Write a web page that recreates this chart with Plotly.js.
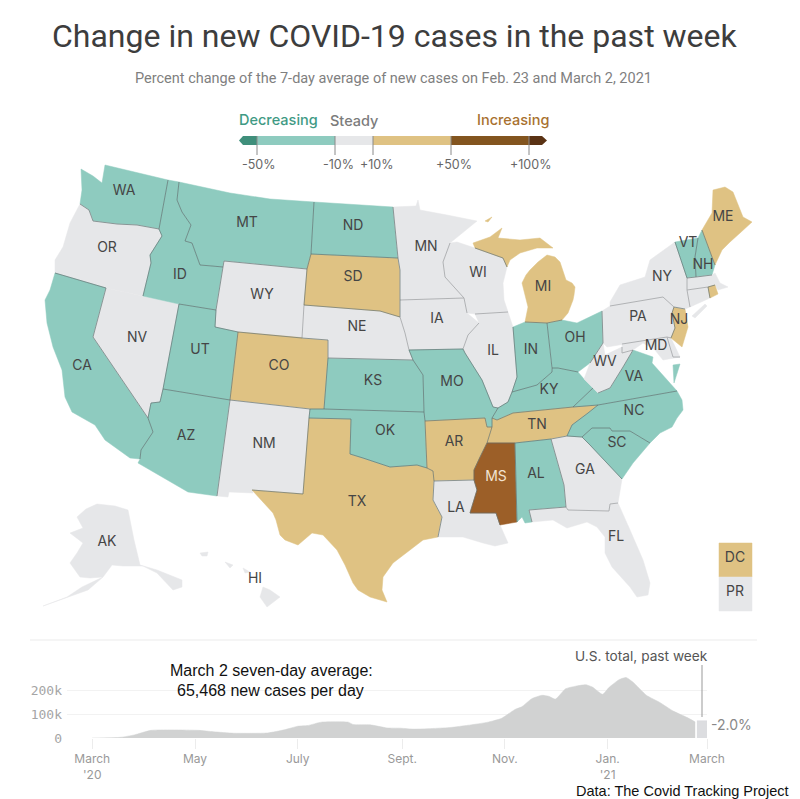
<!DOCTYPE html><html><head><meta charset="utf-8"><script src="https://cdn.plot.ly/plotly-3.0.1.min.js"></script></head><body style="margin:0;background:#fff"><div id="c" style="width:800px;height:799px"></div><script>
// State outlines (no basemap file is available offline)
const WA=[[81,169],[93,176],[102,183],[105,165],[168,180],[159,229],[137,225],[117,224],[93,221],[89,210],[80,204],[82,190]];
const OR=[[80,204],[89,210],[93,221],[117,224],[137,225],[159,229],[162,236],[150,255],[151,263],[143,296],[106,288],[55,273],[55,260],[63,247],[70,223]];
const CA=[[55,273],[106,288],[93,337],[148,418],[153,432],[141,450],[140,459],[130,458],[105,440],[95,425],[72,412],[65,397],[62,370],[53,347],[47,323],[45,300],[50,290]];
const NV=[[106,288],[179,304],[163,389],[160,402],[151,403],[148,418],[93,337]];
const ID=[[168,180],[179,182],[177,200],[182,212],[191,225],[185,241],[192,243],[200,265],[212,266],[223,267],[216,310],[179,304],[143,296],[151,263],[150,255],[162,236],[159,229]];
const MT=[[179,182],[230,193],[270,199],[314,202],[311,254],[307,269],[224,261],[223,267],[212,266],[200,265],[192,243],[185,241],[191,225],[182,212],[177,200]];
const WY=[[224,261],[307,269],[304,305],[302,338],[238,332],[215,327],[216,310],[223,267]];
const UT=[[179,304],[216,310],[215,327],[238,332],[230,400],[163,389]];
const CO=[[238,332],[302,338],[328,340],[328,358],[324,409],[310,409],[230,400]];
const AZ=[[163,389],[230,400],[217,496],[188,492],[138,463],[140,459],[141,450],[153,432],[148,418],[151,403],[160,402]];
const NM=[[230,400],[310,409],[309,418],[303,494],[252,490],[253,493],[229,492],[228,497],[217,496]];
const TX=[[309,418],[351,419],[350,454],[363,458],[390,467],[417,465],[427,468],[433,471],[434,481],[433,500],[442,517],[438,537],[423,540],[410,550],[393,563],[383,577],[382,590],[387,602],[370,597],[358,590],[353,583],[345,565],[337,550],[323,535],[312,533],[298,545],[285,540],[280,535],[276,520],[273,513],[252,490],[303,494]];
const OK=[[310,409],[324,409],[424,412],[425,421],[427,468],[417,465],[390,467],[363,458],[350,454],[351,419],[309,418]];
const KS=[[328,358],[413,360],[423,375],[424,412],[324,409]];
const NE=[[304,305],[380,311],[400,317],[405,333],[409,350],[413,360],[328,358],[328,340],[302,338]];
const SD=[[311,254],[398,258],[400,270],[400,300],[400,317],[380,311],[304,305],[307,269]];
const ND=[[314,202],[393,207],[398,258],[311,254]];
const MN=[[393,207],[416,206],[418,200],[420,210],[447,215],[477,221],[450,243],[443,262],[445,277],[464,298],[400,300],[400,270],[398,258]];
const IA=[[400,300],[464,298],[467,313],[479,323],[468,335],[463,349],[409,350],[405,333],[400,317]];
const WI=[[450,243],[457,242],[475,248],[503,258],[507,267],[503,283],[504,300],[508,312],[475,314],[467,313],[464,298],[445,277],[443,262]];
const IL=[[475,314],[508,312],[513,327],[517,377],[512,392],[508,402],[498,408],[493,407],[482,380],[465,353],[463,349],[468,335],[479,323]];
const IN=[[513,327],[525,322],[547,323],[552,368],[552,372],[537,385],[512,392],[517,377]];
const OH=[[547,323],[562,320],[577,323],[602,311],[603,343],[590,363],[578,372],[558,368],[552,368]];
const KY=[[552,368],[558,368],[578,372],[584,379],[593,388],[573,407],[513,413],[497,420],[492,418],[498,408],[508,402],[512,392],[537,385],[552,372]];
const TN=[[497,420],[513,413],[573,407],[598,405],[588,413],[572,425],[567,436],[551,439],[515,443],[487,443],[492,427],[492,418]];
const MO=[[409,350],[463,349],[465,353],[482,380],[493,407],[498,408],[492,418],[492,427],[487,427],[485,418],[425,421],[424,412],[423,375],[413,360]];
const AR=[[425,421],[485,418],[487,427],[492,427],[487,443],[480,457],[474,470],[474,480],[434,481],[433,471],[427,468]];
const LA=[[434,481],[474,480],[477,490],[470,513],[496,513],[500,525],[508,543],[495,546],[483,543],[463,537],[438,537],[442,517],[433,500]];
const MS=[[487,443],[515,443],[517,522],[500,525],[496,513],[470,513],[477,490],[474,480],[474,470],[480,457]];
const AL=[[515,443],[551,439],[564,485],[566,507],[529,510],[532,522],[525,523],[522,517],[517,522]];
const GA=[[551,439],[567,436],[582,437],[590,445],[622,479],[618,503],[610,504],[609,511],[568,510],[566,507],[564,485]];
const FL=[[529,510],[566,507],[568,510],[609,511],[610,504],[618,503],[630,530],[643,560],[650,583],[648,595],[637,597],[630,587],[612,567],[605,553],[605,537],[597,527],[587,522],[567,528],[553,520],[532,522]];
const SC=[[582,437],[592,428],[610,428],[612,431],[630,431],[650,443],[633,463],[622,479],[590,445]];
const NC=[[567,436],[572,425],[588,413],[598,405],[677,391],[682,400],[683,410],[677,418],[672,427],[660,433],[650,443],[630,431],[612,431],[610,428],[592,428],[582,437]];
const VA=[[573,407],[593,388],[598,393],[610,388],[623,367],[633,350],[653,357],[652,363],[677,391],[598,405]];
const VA2=[[673,365],[680,364],[674,383]];
const WV=[[603,343],[605,355],[622,347],[622,353],[633,350],[623,367],[610,388],[598,393],[584,379],[590,363]];
const PA=[[610,306],[663,297],[674,307],[672,313],[675,328],[671,338],[667,337],[622,344],[607,347],[603,343],[602,311]];
const MD=[[622,344],[667,337],[673,357],[680,357],[663,360],[655,350],[643,343],[633,350],[622,353],[622,347]];
const DE=[[667,337],[671,338],[680,357],[673,357]];
const NJ=[[674,307],[685,309],[688,327],[682,347],[671,338],[675,328],[672,313]];
const NY=[[610,306],[610,302],[620,285],[645,277],[650,260],[675,242],[687,278],[687,290],[690,307],[687,310],[674,307],[663,297]];
const NY2=[[692,316],[705,304],[707,306],[695,318]];
const VT=[[675,242],[698,238],[695,257],[696,277],[687,278]];
const NH=[[698,238],[702,230],[715,265],[712,275],[696,277],[695,257]];
const ME=[[702,230],[712,213],[713,190],[725,187],[733,192],[738,205],[743,217],[752,222],[746,228],[740,233],[730,242],[722,250],[715,265]];
const MA=[[687,278],[696,277],[712,275],[715,273],[720,283],[728,287],[718,290],[715,285],[708,287],[687,290]];
const CT=[[687,290],[708,287],[710,298],[690,307]];
const RI=[[708,287],[715,285],[718,294],[710,298]];
const MI=[[473,243],[490,237],[502,228],[498,238],[520,240],[540,238],[553,248],[537,248],[520,253],[510,260],[507,267],[503,258],[475,248]];
const MI2=[[547,255],[555,257],[560,262],[563,272],[566,280],[572,283],[575,287],[574,295],[573,300],[568,313],[562,320],[547,323],[525,322],[528,307],[522,283],[526,275],[530,270],[538,262]];
const MI3=[[485,221],[492,217],[488,222]];
const AK=[[77,517],[86,509],[97,504],[115,506],[128,510],[134,540],[140,565],[157,570],[182,580],[182,587],[173,590],[157,573],[143,566],[123,566],[112,565],[103,577],[90,578],[80,577],[70,563],[77,553],[83,543],[70,533],[83,528]];
const AK2=[[103,578],[88,590],[43,606],[67,597],[82,587]];
const HI=[[263,587],[270,590],[280,597],[267,607],[260,597]];
const HI2=[[243,568],[250,572],[245,573]];
const HI3=[[225,562],[233,565],[230,568]];
const HI4=[[200,553],[208,552],[207,556],[202,556]];
const DC=[[719,543],[752,543],[752,577],[719,577]];
const PR=[[719,578],[752,578],[752,611],[719,611]];

// Change class of each state
const decreasing=["WA","MT","ND","ID","UT","CA","AZ","KS","OK","MO","IN","OH","KY","VA","VA2","NC","SC","AL","VT","NH"];
const steady=["OR","NV","WY","NE","MN","IA","WI","IL","NM","LA","GA","FL","NY","NY2","PA","WV","MD","DE","MA","CT","AK","AK2","HI","HI2","HI3","HI4","PR"];
const increasing=["SD","CO","TX","AR","TN","MI","MI2","MI3","ME","NJ","RI","DC"];
const surging=["MS"];
const outlines={WA,OR,CA,NV,ID,MT,WY,UT,CO,AZ,NM,TX,OK,KS,NE,SD,ND,MN,IA,WI,IL,IN,OH,KY,TN,MO,AR,LA,MS,AL,GA,FL,SC,NC,VA,VA2,WV,PA,MD,DE,NJ,NY,NY2,VT,NH,ME,MA,CT,RI,MI,MI2,MI3,AK,AK2,HI,HI2,HI3,HI4,DC,PR};

// State labels
const labelNames=["WA","MT","ND","ID","OR","WY","SD","MN","WI","MI","ME","VT","NH","NY","NV","UT","CO","NE","IA","IL","IN","OH","PA","NJ","MD","WV","VA","KY","MO","KS","CA","AZ","NM","OK","AR","TN","NC","SC","GA","AL","MS","LA","TX","FL","AK","HI","DC","PR"];
const labelX=[124,247,353,180,107,262,353,426,478,543,723,688,703,662,137,200,279,357,437,493,531,575,638,679,656,605,634,549,452,373,82,186,264,385,454,537,634,617,585,536,496,456,357,616,107,255,735,735];
const labelY=[191,223,226,275,248,295,277,247,273,287,217,243,265,277,338,350,366,327,319,351,350,338,317,320,346,362,377,390,382,381,366,436,444,431,442,425,411,443,470,474,477,508,502,537,542,579,558,592];

// U.S. seven-day average of new cases
const caseDates=["2020-03-01","2020-03-18","2020-03-26","2020-04-05","2020-05-03","2020-05-12","2020-05-24","2020-06-13","2020-06-23","2020-07-01","2020-07-07","2020-07-15","2020-07-31","2020-08-03","2020-08-13","2020-08-23","2020-08-31","2020-09-08","2020-09-20","2020-09-30","2020-10-10","2020-10-22","2020-10-30","2020-11-07","2020-11-11","2020-11-17","2020-11-23","2020-11-27","2020-12-01","2020-12-07","2020-12-13","2020-12-19","2020-12-23","2020-12-29","2021-01-02","2021-01-08","2021-01-12","2021-01-16","2021-01-24","2021-02-01","2021-02-09","2021-02-17","2021-02-22"];
const caseValues=[0,3000,13000,32000,32000,26000,20000,21000,34000,49000,52000,66000,66000,56000,55000,42000,41000,37000,40000,44000,53000,66000,82000,119000,130000,164000,178000,174000,162000,205000,216000,222000,212000,182000,212000,244000,252000,233000,178000,148000,112000,86000,67000];
const weekDates=["2021-02-23","2021-03-01"];
const weekValues=[72000,72000];
const tickDates=["2020-03-01","2020-05-01","2020-07-01","2020-09-01","2020-11-01","2021-01-01","2021-03-01"];
const tickLabels=["March<br>'20","May","July","Sept.","Nov.","Jan.<br>'21","March"];

// Legend
const legendStops=[257,335,373,451,529];
const legendLabels=["-50%","-10%","+10%","+50%","+100%"];

const TEAL='#8ecbbf',GRAY='#e6e7e9',TAN='#dfc283',BROWN='#9c5f28';
const colorOf={};
decreasing.forEach(s=>colorOf[s]=TEAL);steady.forEach(s=>colorOf[s]=GRAY);increasing.forEach(s=>colorOf[s]=TAN);surging.forEach(s=>colorOf[s]=BROWN);

// Snap nearly-equal vertices, then find edges used by two states: those are the inner borders
const canon=[];
function snap(p){for(const q of canon){if(Math.hypot(p[0]-q[0],p[1]-q[1])<=2.3)return q;}canon.push(p);return p;}
const edgeOwners={},edgePts={};
const traces=[];
Object.keys(outlines).forEach(name=>{
  const pts=outlines[name].map(snap);
  traces.push({type:'scatter',mode:'lines',x:pts.map(p=>p[0]).concat(pts[0][0]),y:pts.map(p=>p[1]).concat(pts[0][1]),fill:'toself',fillcolor:colorOf[name],line:{color:colorOf[name],width:0.5},hoverinfo:'skip',showlegend:false});
  if(name==='DC'||name==='PR')return;
  pts.forEach((p,i)=>{const q=pts[(i+1)%pts.length];const a=p.join(),b=q.join();const k=a<b?a+'|'+b:b+'|'+a;(edgeOwners[k]=edgeOwners[k]||[]).push(name);edgePts[k]=[p,q];});
});
const bx=[],by=[],lx=[],ly=[];
Object.keys(edgeOwners).forEach(k=>{const o=edgeOwners[k];if(o.length>1){const [p,q]=edgePts[k];const pale=o.every(n=>colorOf[n]===GRAY);(pale?lx:bx).push(p[0],q[0],null);(pale?ly:by).push(p[1],q[1],null);}});
traces.push({type:'scatter',mode:'lines',x:lx,y:ly,line:{color:'#a9abae',width:0.9},hoverinfo:'skip',showlegend:false});
traces.push({type:'scatter',mode:'lines',x:bx,y:by,line:{color:'rgba(95,110,110,0.75)',width:0.9},hoverinfo:'skip',showlegend:false});
traces.push({type:'scatter',mode:'text',x:labelX,y:labelY,text:labelNames,textfont:{family:'Inter, Liberation Sans, sans-serif',size:14,color:labelNames.map(n=>n==='MS'?'#f3e4d2':'#454545')},textposition:'middle center',hoverinfo:'skip',showlegend:false});
// small chart
traces.push({type:'scatter',mode:'lines',xaxis:'x2',yaxis:'y2',x:caseDates,y:caseValues,fill:'tozeroy',fillcolor:'#d1d2d2',line:{color:'#d1d2d2',width:0.5,shape:'spline',smoothing:0.5},hoverinfo:'skip',showlegend:false});
traces.push({type:'scatter',mode:'lines',xaxis:'x2',yaxis:'y2',x:weekDates,y:weekValues,fill:'tozeroy',fillcolor:'#dcdde0',line:{color:'#dcdde0',width:0.5},hoverinfo:'skip',showlegend:false});

const Y=py=>1-py/799, X=px=>px/800;
function txt(text,px,py,size,color,anchor,family,weight){return {text,x:X(px),y:Y(py),xref:'paper',yref:'paper',showarrow:false,xanchor:anchor||'center',yanchor:'middle',font:{family:family||'Inter, Liberation Sans, sans-serif',size,color,weight:weight||400}};}
const seg=(a,b,c)=>({type:'rect',xref:'x',yref:'y',x0:a,x1:b,y0:136,y1:145,fillcolor:c,line:{width:0},layer:'below'});
const shapes=[
 seg(243,257,'#3f8f7b'),seg(257,335,TEAL),seg(335,373,GRAY),seg(373,451,TAN),seg(451,529,'#83551f'),seg(529,542,'#5a3214'),
 {type:'path',xref:'x',yref:'y',path:'M243,136 L239,140.5 L243,145 Z',fillcolor:'#3f8f7b',line:{width:0}},
 {type:'path',xref:'x',yref:'y',path:'M542,136 L547,140.5 L542,145 Z',fillcolor:'#5a3214',line:{width:0}},
 {type:'line',xref:'paper',yref:'paper',x0:X(30),x1:X(757),y0:Y(640),y1:Y(640),line:{color:'#ececec',width:1.2}},
 {type:'line',xref:'paper',yref:'paper',x0:X(702),x1:X(702),y0:Y(665),y1:Y(717),line:{color:'#999',width:1}}
];
legendStops.forEach(s=>shapes.push({type:'line',xref:'x',yref:'y',x0:s,x1:s,y0:136,y1:155,line:{color:'#8a8a8a',width:1}}));
const anns=[
 txt('Change in new COVID-19 cases in the past week',395,36,32,'#3d3d3d','center','Roboto'),
 txt('Percent change of the 7-day average of new cases on Feb. 23 and March 2, 2021',393,79,14.5,'#7f7f7f','center','Roboto'),
 txt('Decreasing',237,120,14.5,'#3f9a84','left',null,500),
 txt('Steady',328,120,14.5,'#7c7c7c','left',null,500),
 txt('Increasing',551,120,14.5,'#a8712f','right',null,500),
 txt('March 2 seven-day average:',271,670,16,'#111','center','Liberation Sans'),
 txt('65,468 new cases per day',270,690,16,'#111','center','Liberation Sans'),
 txt('U.S. total, past week',641,656,13.7,'#555'),
 txt('-2.0%',709,724,14,'#888','left'),
 txt('Data: The Covid Tracking Project',574,791,14.5,'#111','left','Liberation Sans')
];
legendStops.forEach((s,i)=>anns.push(txt(legendLabels[i],[259,338,377,454,530][i],165,12.5,'#666')));

const pxPerDay=615/365, d0=Date.UTC(2020,2,1);
const dateAt=px=>new Date(d0+(px-91)/pxPerDay*864e5).toISOString().slice(0,10);
const layout={width:800,height:799,margin:{l:0,r:0,t:0,b:0},paper_bgcolor:'#fff',plot_bgcolor:'rgba(0,0,0,0)',showlegend:false,shapes,annotations:anns,
 xaxis:{domain:[0,1],range:[0,800],visible:false,fixedrange:true},
 yaxis:{domain:[0,1],range:[799,0],visible:false,fixedrange:true},
 xaxis2:{domain:[X(67),X(707)],range:[dateAt(67),dateAt(707)],type:'date',anchor:'y2',tickmode:'array',tickvals:tickDates,ticktext:tickLabels,ticks:'outside',ticklen:10,tickcolor:'#ececec',tickfont:{family:'Inter, Liberation Sans, sans-serif',size:12,color:'#999'},showgrid:false,showline:false,zeroline:false,fixedrange:true},
 yaxis2:{domain:[Y(738),Y(666)],range:[0,300000],anchor:'x2',tickmode:'array',tickvals:[0,100000,200000],ticktext:['0','100k','200k'],tickfont:{family:'DejaVu Sans Mono, monospace',size:13,color:'#a5a5a5'},ticklabelstandoff:4,gridcolor:'#f2f2f2',gridwidth:1,zeroline:false,showline:false,ticks:'',fixedrange:true}
};
Plotly.newPlot('c',traces,layout,{displayModeBar:false,staticPlot:true});
</script></body></html>
